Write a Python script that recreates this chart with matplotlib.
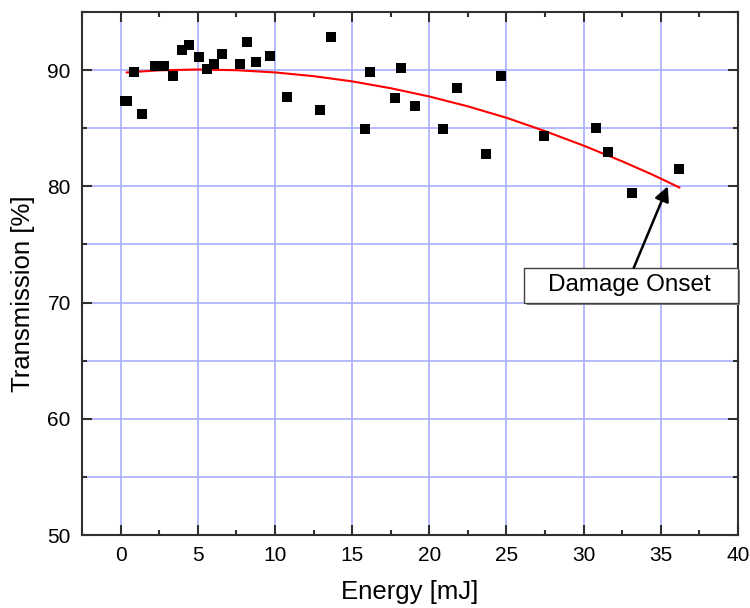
import matplotlib
matplotlib.use("Agg")
import matplotlib.pyplot as plt
from matplotlib.patches import Rectangle
from matplotlib.ticker import MultipleLocator

plt.rcParams.update({
    "font.family": ["Liberation Sans", "DejaVu Sans"],
    "font.size": 15,
})

# measured points (energy in mJ, transmission in %)
energy = [0.3, 0.4, 0.9, 1.4, 2.2, 2.8, 3.4, 4.0, 4.45, 5.05, 5.6, 6.05, 6.6,
          7.75, 8.2, 8.8, 9.7, 10.8, 12.9, 13.65, 15.85, 16.15, 17.75, 18.15,
          19.05, 20.9, 21.8, 23.7, 24.65, 27.4, 30.8, 31.55, 33.15, 36.2]
transmission = [87.3, 87.35, 89.8, 86.2, 90.35, 90.35, 89.5, 91.75, 92.15, 91.1,
                90.1, 90.5, 91.4, 90.5, 92.4, 90.7, 91.25, 87.65, 86.6, 92.85,
                84.9, 89.8, 87.6, 90.2, 86.95, 84.95, 88.45, 82.8, 89.5, 84.3,
                85.0, 82.95, 79.4, 81.45]

# red trend line
trend_x = [0.4, 2.5, 5, 7.5, 10, 12.5, 15, 17.5, 20, 22.5, 25, 27.5, 30,
           32.5, 34.5, 36.2]
trend_y = [89.8, 89.98, 90.05, 89.99, 89.8, 89.48, 89.03, 88.44, 87.73,
           86.88, 85.9, 84.75, 83.5, 82.15, 80.98, 79.9]

fig, ax = plt.subplots(figsize=(7.5, 6.08), dpi=100)
fig.subplots_adjust(left=0.1093, right=0.984, top=0.9803, bottom=0.12)

ax.plot(trend_x, trend_y, color="red", lw=1.5, zorder=3)
ax.plot(energy, transmission, ls="none", marker="s", ms=7.5, mew=0,
        color="black", zorder=4)

ax.set_xlim(-2.5, 40)
ax.set_ylim(50, 95)
ax.xaxis.set_major_locator(MultipleLocator(5))
ax.xaxis.set_minor_locator(MultipleLocator(2.5))
ax.yaxis.set_major_locator(MultipleLocator(10))
ax.yaxis.set_minor_locator(MultipleLocator(5))

grid_c = "#a8aeff"
ax.grid(True, which="major", axis="x", color=grid_c, lw=1.2)
ax.grid(True, which="both", axis="y", color=grid_c, lw=1.2)
ax.set_axisbelow(True)

for s in ax.spines.values():
    s.set_color("#303030")
    s.set_linewidth(1.5)
ax.tick_params(which="both", direction="in", top=True, right=True,
               color="#303030", width=1.5, labelsize=15, pad=8)
ax.tick_params(which="major", length=7)
ax.tick_params(which="minor", length=3.5)

ax.set_xlabel("Energy [mJ]", fontsize=18.5, labelpad=11)
ax.set_ylabel("Transmission [%]", fontsize=18.5)
ax.yaxis.set_label_coords(-0.072, 0.462)

# "Damage Onset" label box with arrow
ax.add_patch(Rectangle((26.35, 69.8), 13.8, 3.0, facecolor="#808080",
                       edgecolor="none", clip_on=False, zorder=5))
ax.add_patch(Rectangle((26.15, 70.0), 13.85, 3.0, facecolor="white",
                       edgecolor="#404040", lw=1.0, clip_on=False, zorder=6))
ax.text(32.95, 71.5, "Damage Onset", ha="center", va="center",
        fontsize=17.5, zorder=7)
ax.annotate("", xy=(35.45, 80.0), xytext=(33.25, 73.0),
            arrowprops=dict(arrowstyle="-|>", color="black", lw=1.8,
                            mutation_scale=22, shrinkA=0, shrinkB=0),
            zorder=7)

fig.savefig("out.png", dpi=100)
